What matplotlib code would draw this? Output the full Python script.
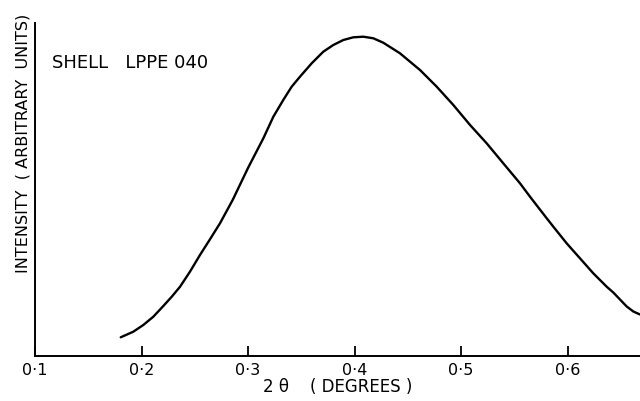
#!/usr/bin/env python3
"""
Small-angle scattering intensity curve, Shell LPPE 040
"""
import matplotlib
matplotlib.use("Agg")
import matplotlib.pyplot as plt

# 2-theta in degrees and intensity (arbitrary units)
two_theta = [0.1805, 0.1923, 0.2017, 0.2111, 0.2205, 0.2284, 0.2362, 0.2455,
             0.2549, 0.2643, 0.2737, 0.2856, 0.3000, 0.3144, 0.3238, 0.3331,
             0.3410, 0.3488, 0.3598, 0.3707, 0.3801, 0.3895, 0.3989, 0.4083,
             0.4177, 0.4270, 0.4427, 0.4615, 0.4772, 0.4928, 0.5085, 0.5241,
             0.5397, 0.5554, 0.5648, 0.5805, 0.5867, 0.5992,
             0.6117, 0.6242, 0.6368, 0.6430, 0.6493, 0.6556, 0.6618, 0.6681]
intensity = [18.7, 24.3, 31.0, 39.3, 50.0, 59.3, 69.3, 84.3,
             101.0, 116.7, 132.7, 156.0, 188.0, 217.7, 239.3, 256.0,
             269.3, 279.3, 292.7, 304.3, 311.0, 316.0, 318.7, 319.3,
             317.7, 313.3, 302.7, 286.0, 269.3, 251.0, 231.0, 212.7,
             192.7, 172.7, 159.3, 137.7, 129.3, 112.7,
             97.7, 82.7, 69.3, 63.5, 56.5, 49.5, 44.5, 41.5]

tick_values = [0.1, 0.2, 0.3, 0.4, 0.5, 0.6]
tick_labels = ["0\u00b71", "0\u00b72", "0\u00b73", "0\u00b74", "0\u00b75", "0\u00b76"]

plt.rcParams['font.family'] = ['DejaVu Sans']

fig = plt.figure(figsize=(6.4, 4.01), dpi=100)
ax = fig.add_axes([35 / 640, 45 / 401, 1 - 35 / 640, 333 / 401])

ax.plot(two_theta, intensity, color='black', linewidth=1.7,
        solid_joinstyle='round', solid_capstyle='round', clip_on=False)

ax.set_xlim(0.1, 0.1 + (640 - 35) / 1065)
ax.set_ylim(0, 333)

for side in ['top', 'right']:
    ax.spines[side].set_visible(False)
for side in ['left', 'bottom']:
    ax.spines[side].set_linewidth(1.4)

ax.set_xticks(tick_values)
ax.set_xticklabels(tick_labels, fontsize=11.5)
ax.tick_params(axis='x', direction='in', length=7, width=1.3, pad=5)
ax.set_yticks([])

ax.set_xlabel("2 \u03b8    ( DEGREES )", fontsize=12, labelpad=0)
ax.set_ylabel("INTENSITY  ( ARBITRARY  UNITS)", fontsize=11.5)
ax.yaxis.set_label_coords(-0.008, 0.64)

ax.text(17 / 605, 1 - (63 - 23) / 333, "SHELL   LPPE 040",
        transform=ax.transAxes, fontsize=13, va='center', ha='left')

fig.savefig('out.png', dpi=100)
